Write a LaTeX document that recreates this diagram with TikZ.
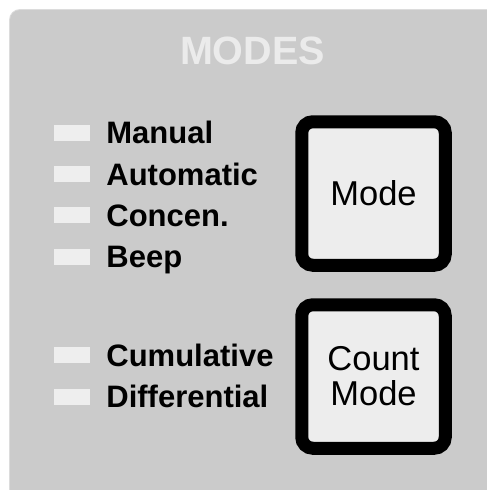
\documentclass[tikz,border=0pt]{standalone}
\usepackage{fontspec}
\setmainfont{Liberation Sans}
\usetikzlibrary{positioning}

\definecolor{panelgray}{HTML}{CBCBCB}
\definecolor{paneledge}{HTML}{DCDCDC}
\definecolor{ledwhite}{HTML}{EEEEEE}
\definecolor{keyface}{HTML}{EDEDED}
\definecolor{titlewhite}{HTML}{EBEBEB}

\tikzset{
    led/.style = {fill = ledwhite, minimum width = 36pt, minimum height = 16pt, inner sep = 0pt},
    modelabel/.style = {font = \fontsize{31}{31}\selectfont\bfseries, inner sep = 0pt, text height = 22pt, text depth = 0pt},
    keybutton/.style = {draw = black, line width = 13pt, fill = keyface, rounded corners = 11pt,
        minimum width = 143.5pt, minimum height = 143.5pt, inner sep = 0pt, align = center,
        font = \fontsize{34.5}{35}\selectfont}
}

\begin{document}
\begin{tikzpicture}[x = 1pt, y = -1pt]

        \useasboundingbox (0, 0) rectangle (487, 490);

        % Panel
        \fill [paneledge] (9, 491) [rounded corners = 11pt] -- (9, 9) [sharp corners] -- (488, 9) -- (488, 491) -- cycle;
        \fill [panelgray] (10, 491) [rounded corners = 10pt] -- (10, 10) [sharp corners] -- (488, 10) -- (488, 491) -- cycle;

        % Title
        \node (title) [font = \fontsize{39.5}{39.5}\selectfont\bfseries, text = titlewhite] at (252.5, 51) {MODES};

        %% Mode lamps
        \node (ledmanual) [led] at (72, 132.5) {};
        \node (lblmanual) [modelabel, right = 16pt of ledmanual] {Manual};

        \node (ledauto) [led] at (72, 174) {};
        \node (lblauto) [modelabel, right = 16pt of ledauto] {Automatic};

        \node (ledconc) [led] at (72, 215) {};
        \node (lblconc) [modelabel, right = 16pt of ledconc] {Concen.};

        \node (ledbeep) [led] at (72, 256.5) {};
        \node (lblbeep) [modelabel, right = 16pt of ledbeep] {Beep};

        %% Count mode lamps
        \node (ledcumul) [led] at (72, 355) {};
        \node (lblcumul) [modelabel, right = 16pt of ledcumul] {Cumulative};

        \node (leddiff) [led] at (72, 396.5) {};
        \node (lbldiff) [modelabel, right = 16pt of leddiff] {Differential};

        % Buttons
        \node (modekey) [keybutton] at (373.5, 193.5) {Mode};
        \node (countkey) [keybutton] at (373.5, 376.5) {Count\\Mode};

    \end{tikzpicture}
\end{document}
